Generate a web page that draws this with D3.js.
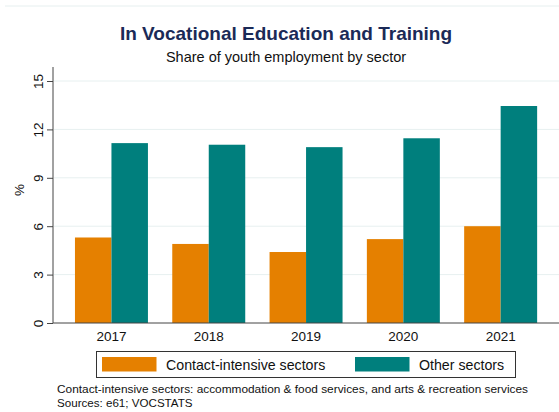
<!DOCTYPE html>
<html>
<head>
<meta charset="utf-8">
<script src="https://cdn.jsdelivr.net/npm/d3@7"></script>
<style>
  body { margin: 0; background: #fff; }
  svg { font-family: "Liberation Sans", Arial, sans-serif; display: block; }
</style>
</head>
<body>
<svg id="chart" width="559" height="412"></svg>
<script>
// data
var years = ["2017", "2018", "2019", "2020", "2021"];
var seriesNames = ["Contact-intensive sectors", "Other sectors"];
var contactIntensive = [5.3, 4.9, 4.4, 5.2, 6.0];
var otherSectors = [11.15, 11.05, 10.9, 11.45, 13.45];
var yTicks = [0, 3, 6, 9, 12, 15];
var colors = ["#e58000", "#007f7d"];

var svg = d3.select("#chart");

// outer frame line at the top
svg.append("line").attr("x1", 5).attr("x2", 559).attr("y1", 6).attr("y2", 6)
  .attr("stroke", "#e6efef").attr("stroke-width", 1);

// titles
svg.append("text").attr("x", 286).attr("y", 40).attr("text-anchor", "middle")
  .attr("font-size", 19).attr("font-weight", "bold").attr("fill", "#1b2a57")
  .text("In Vocational Education and Training");
svg.append("text").attr("x", 286).attr("y", 62).attr("text-anchor", "middle")
  .attr("font-size", 14.5).attr("fill", "#111")
  .text("Share of youth employment by sector");

var y = d3.scaleLinear().domain([0, 15]).range([323, 81]);
var x = d3.scaleBand().domain(years).range([62.8, 549.3])
  .paddingInner(0.25).paddingOuter(0.125);
var xSub = d3.scaleBand().domain(seriesNames).range([0, x.bandwidth()]);

// gridlines
svg.append("g").selectAll("line").data(yTicks.slice(1)).enter().append("line")
  .attr("x1", 54).attr("x2", 559)
  .attr("y1", function(d) { return y(d); }).attr("y2", function(d) { return y(d); })
  .attr("stroke", "#e7f0f0").attr("stroke-width", 1);

// bars
var rows = years.map(function(yr, i) {
  return { year: yr, values: [contactIntensive[i], otherSectors[i]] };
});
var groups = svg.append("g").selectAll("g").data(rows).enter().append("g")
  .attr("transform", function(d) { return "translate(" + x(d.year) + ",0)"; });
groups.selectAll("rect").data(function(d) { return d.values; }).enter().append("rect")
  .attr("x", function(d, i) { return xSub(seriesNames[i]); })
  .attr("width", xSub.bandwidth())
  .attr("y", function(d) { return y(d); })
  .attr("height", function(d) { return y(0) - y(d); })
  .attr("fill", function(d, i) { return colors[i]; });

// y axis, labels turned on their side
var yAxis = svg.append("g").attr("transform", "translate(53,0)")
  .call(d3.axisLeft(y).tickValues(yTicks).tickSize(6));
yAxis.select(".domain").attr("d", "M0,67V323").attr("stroke", "#444");
yAxis.selectAll(".tick line").attr("stroke", "#444");
yAxis.selectAll(".tick text")
  .attr("font-size", 13.5).attr("font-family", "Liberation Sans, Arial, sans-serif").attr("fill", "#111")
  .attr("x", null).attr("dy", 0)
  .attr("text-anchor", "middle")
  .attr("transform", "translate(-10,0) rotate(-90)");

svg.append("text").attr("transform", "translate(24,190) rotate(-90)")
  .attr("text-anchor", "middle").attr("font-size", 13.5).attr("fill", "#111").text("%");

// x axis
var xAxis = svg.append("g").attr("transform", "translate(0,323)")
  .call(d3.axisBottom(x).tickSize(0).tickPadding(8));
xAxis.select(".domain").attr("d", "M53,0H559").attr("stroke", "#444");
xAxis.selectAll(".tick text").attr("font-size", 13.5)
  .attr("font-family", "Liberation Sans, Arial, sans-serif").attr("fill", "#111");

// legend
var legend = svg.append("g");
legend.append("rect").attr("x", 96.5).attr("y", 351.5).attr("width", 419).attr("height", 26)
  .attr("fill", "#fff").attr("stroke", "#333").attr("stroke-width", 1);
var legX = [102, 355];
var items = legend.selectAll("g").data(seriesNames).enter().append("g")
  .attr("transform", function(d, i) { return "translate(" + legX[i] + ",357)"; });
items.append("rect").attr("width", 54.5).attr("height", 14.5)
  .attr("fill", function(d, i) { return colors[i]; });
items.append("text").attr("x", 64).attr("y", 12.5).attr("font-size", 14.2).attr("fill", "#111")
  .text(function(d) { return d; });

// notes
svg.append("text").attr("x", 57).attr("y", 393).attr("font-size", 11.6).attr("fill", "#111")
  .attr("textLength", 471).attr("lengthAdjust", "spacingAndGlyphs")
  .text("Contact-intensive sectors: accommodation & food services, and arts & recreation services");
svg.append("text").attr("x", 57).attr("y", 406.5).attr("font-size", 11.6).attr("fill", "#111")
  .text("Sources: e61; VOCSTATS");
</script>
</body>
</html>
